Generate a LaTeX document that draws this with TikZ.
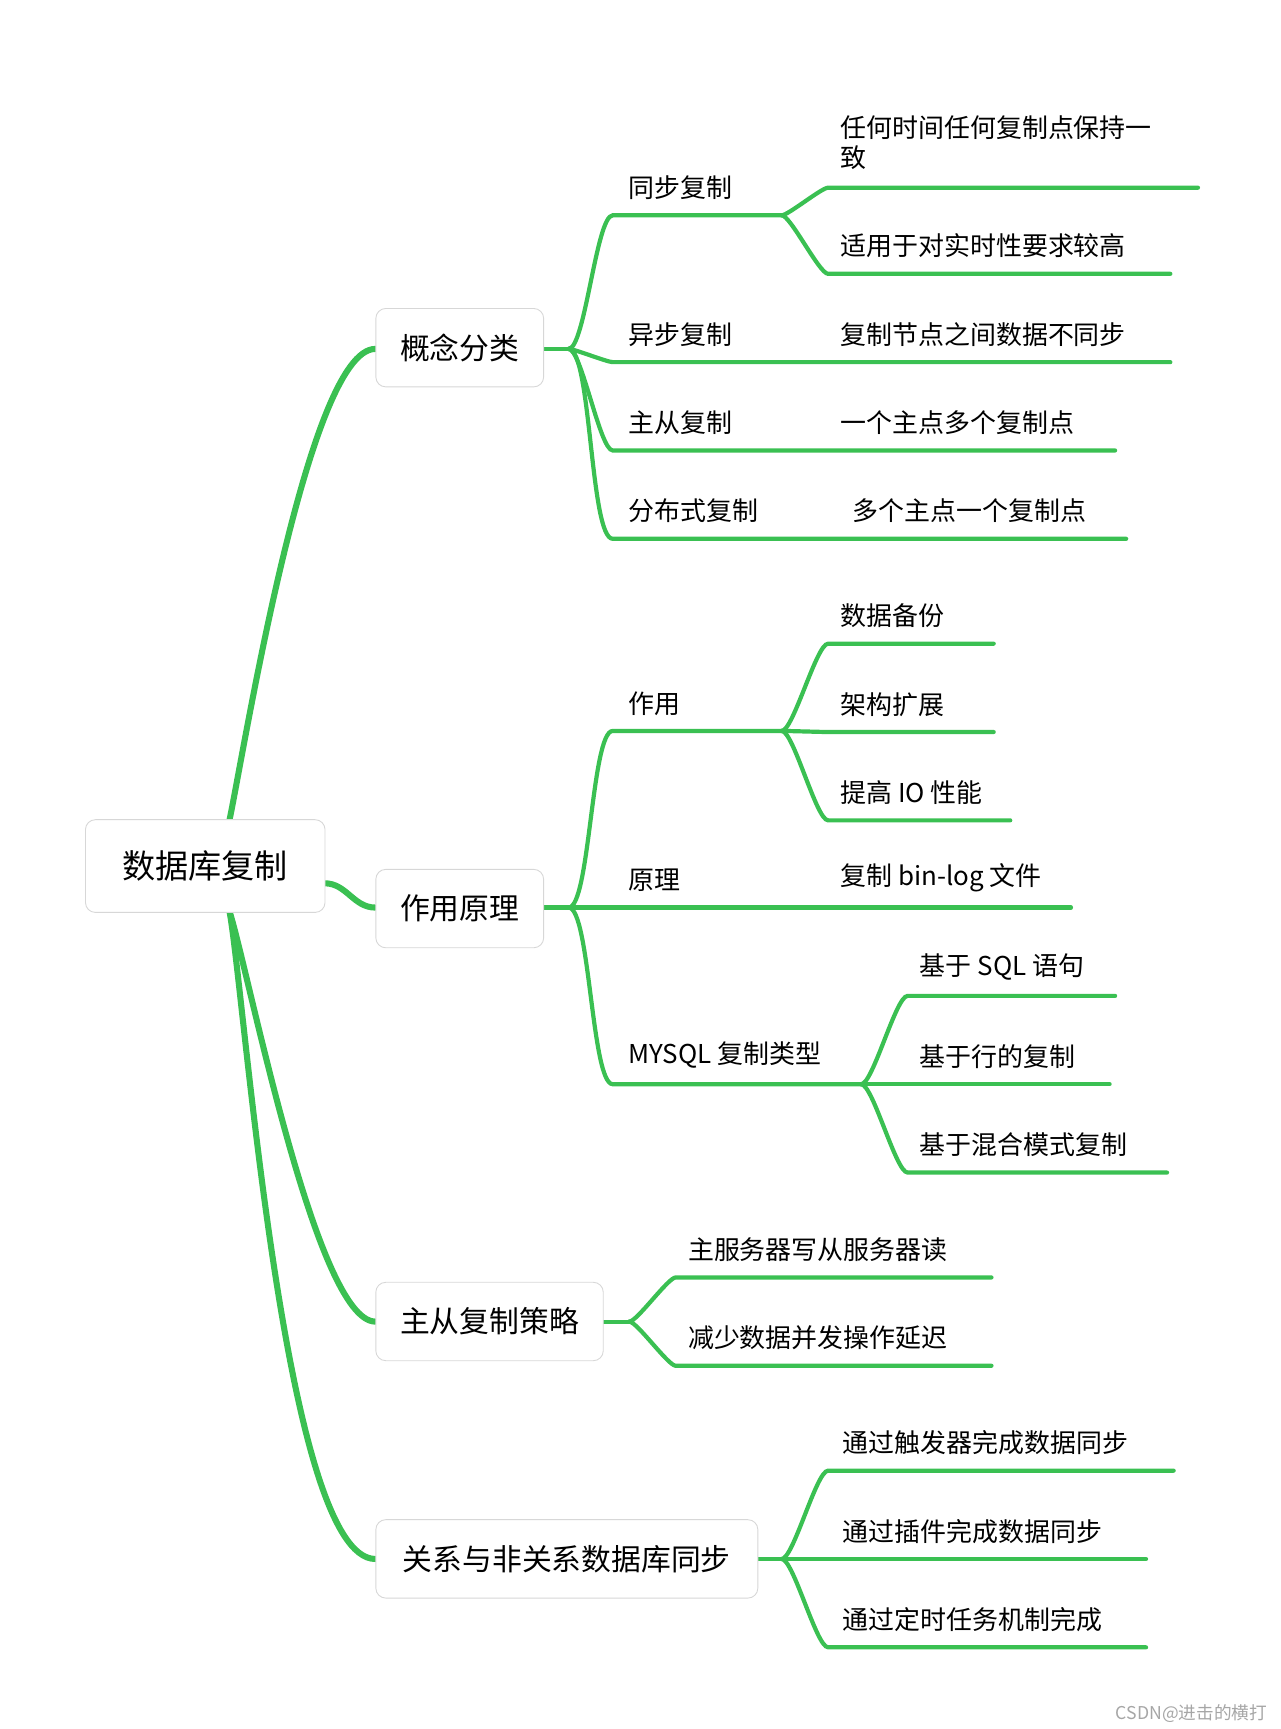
\documentclass[tikz,border=0pt]{standalone}
\usepackage{fontspec}
\setmainfont{Noto Sans CJK SC}
\usetikzlibrary{calc}
\definecolor{gr}{RGB}{58,192,82}
\definecolor{bd}{RGB}{215,215,215}
\tikzset{
 gl/.style={draw=gr,line width=3.8pt,line cap=round},
 gr0/.style={draw=gr,line width=5.5pt,line cap=round},
 box/.style={draw=bd,line width=0.8pt,rounded corners=9pt,fill=white,inner sep=0pt,anchor=north west},
 lab/.style={anchor=south west,inner sep=0pt,font=\fontsize{23.5}{27}\selectfont,align=left},
}
\newcommand\leaf[6]{% from, name, xs, y, xe, text
 \coordinate (#2s) at (#3,#4); \coordinate (#2e) at (#5,#4);
 \draw[gl] (#1) to[out=0,in=180,looseness=0.3] (#2s) -- (#2e);}
\begin{document}
\begin{tikzpicture}[x=1pt,y=-1pt]
\useasboundingbox (0,0) rectangle (1160,1566);
\coordinate (rt) at (208,742); \coordinate (rb) at (208,826); \coordinate (rr) at (294,800);
\coordinate (a1) at (340,316); \coordinate (a2) at (340,822); \coordinate (a3) at (340,1197); \coordinate (a4) at (340,1412);
\draw[gr0] (rt) to[out=78,in=180,looseness=0.35] (a1);
\draw[gr0] (rr) to[out=0,in=180] (a2);
\draw[gr0] (rb) to[out=-72,in=180,looseness=0.35] (a3);
\draw[gr0] (rb) to[out=-80,in=180,looseness=0.35] (a4);
\node[box,minimum width=217pt,minimum height=84pt,font=\fontsize{30}{34}\selectfont] (root) at (77,742) {数据库复制};
\tikzset{l1/.style={box,minimum height=71pt,font=\fontsize{27}{30}\selectfont}}
\coordinate (b1) at (515,316); \coordinate (b2) at (515,822); \coordinate (b3) at (570,1197); \coordinate (b4) at (708,1412);
\draw[gl] (492,316) coordinate (b1a) -- (b1);
\draw[gl] (492,822) coordinate (b2a) -- (b2);
\draw[gl] (546,1197) coordinate (b3a) -- (b3);
\draw[gl] (686,1412) coordinate (b4a) -- (b4);
\node[l1,minimum width=152pt] (n1) at (340,279) {概念分类};
\node[l1,minimum width=152pt] (n2) at (340,787) {作用原理};
\node[l1,minimum width=206pt] (n3) at (340,1161) {主从复制策略};
\node[l1,minimum width=346pt] (n4) at (340,1376) {关系与非关系数据库同步};
% 概念分类
\leaf{b1}{s1}{555}{195}{708}{}
\leaf{s1e}{s11}{750}{170}{1085}{}
\leaf{s1e}{s12}{750}{248}{1060}{}
\leaf{b1}{s2}{555}{328}{1060}{}
\leaf{b1}{s3}{555}{408}{1010}{}
\leaf{b1}{s4}{555}{488}{1020}{}
\node[lab] (t1) at (569,181) {同步复制};
\node[lab] (t11) at (761,154) {任何时间任何复制点保持一\\致};
\node[lab] (t12) at (761,234) {适用于对实时性要求较高};
\node[lab] (t2) at (569,314) {异步复制};
\node[lab] (t21) at (761,314) {复制节点之间数据不同步};
\node[lab] (t3) at (569,394) {主从复制};
\node[lab] (t31) at (761,394) {一个主点多个复制点};
\node[lab] (t4) at (569,474) {分布式复制};
\node[lab] (t41) at (772,474) {多个主点一个复制点};
% 作用原理
\leaf{b2}{u1}{555}{662}{708}{}
\leaf{u1e}{u11}{750}{583}{900}{}
\leaf{u1e}{u12}{750}{663}{900}{}
\leaf{u1e}{u13}{750}{743}{915}{}
\leaf{b2}{u2}{555}{822}{970}{}
\leaf{b2}{u3}{555}{982}{780}{}
\leaf{u3e}{u31}{822}{902}{1010}{}
\leaf{u3e}{u32}{822}{982}{1005}{}
\leaf{u3e}{u33}{822}{1062}{1057}{}
\node[lab] (v1) at (569,648) {作用};
\node[lab] (v11) at (761,569) {数据备份};
\node[lab] (v12) at (761,649) {架构扩展};
\node[lab] (v13) at (761,729) {提高 IO 性能};
\node[lab] (v2) at (569,808) {原理};
\node[lab] (v21) at (761,808) {复制 bin-log 文件};
\node[lab] (v3) at (569,968) {MYSQL 复制类型};
\node[lab] (v31) at (833,888) {基于 SQL 语句};
\node[lab] (v32) at (833,968) {基于行的复制};
\node[lab] (v33) at (833,1048) {基于混合模式复制};
% 主从复制策略
\leaf{b3}{w1}{612}{1157}{898}{}
\leaf{b3}{w2}{612}{1237}{898}{}
\node[lab] (x1) at (623,1143) {主服务器写从服务器读};
\node[lab] (x2) at (623,1223) {减少数据并发操作延迟};
% 关系与非关系
\leaf{b4}{y1}{750}{1332}{1063}{}
\leaf{b4}{y2}{750}{1412}{1038}{}
\leaf{b4}{y3}{750}{1492}{1038}{}
\node[lab] (z1) at (763,1318) {通过触发器完成数据同步};
\node[lab] (z2) at (763,1398) {通过插件完成数据同步};
\node[lab] (z3) at (763,1478) {通过定时任务机制完成};
\node[anchor=south east,inner sep=0pt,text=gray!70,font=\fontsize{16}{18}\selectfont] (wm) at (1148,1560) {CSDN@进击的横打};
\end{tikzpicture}
\end{document}
